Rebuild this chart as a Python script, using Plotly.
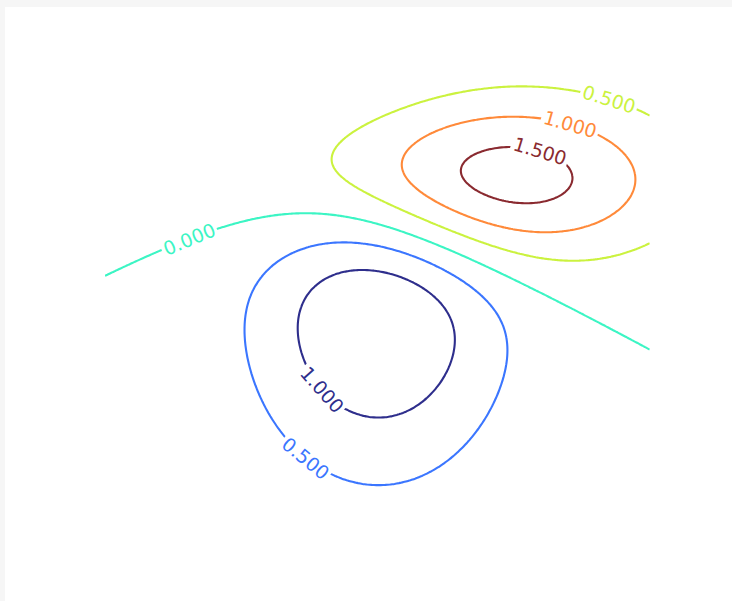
import numpy as np
import plotly.graph_objects as go

# Axis extents and grid step
x_range = [-3.0, 3.0]
y_range = [-2.0, 2.0]
y_grid_top = 1.9
step = 0.025

# Two bivariate normal bumps: (sigma_x, sigma_y, mu_x, mu_y)
bump_neg = [1.0, 1.0, 0.0, 0.0]
bump_pos = [1.5, 0.5, 1.0, 1.0]
scale = 10.0

# Contour levels (negative ones are labelled without a sign, as in the reference)
levels = [-1.0, -0.5, 0.0, 0.5, 1.0, 1.5]
level_colors = ["#2e2e8c", "#3b76ff", "#3cf5c4", "#cbf23f", "#ff8a3a", "#8a2a30"]
label_texts = ["1.000", "0.500", "0.000", "0.500", "1.000", "1.500"]
# x (data units) where each level's label sits, and which crossing ("low"/"high")
label_x = [-0.62, -0.81, -2.07, 2.52, 2.10, 1.78]
label_branch = ["low", "low", "high", "high", "high", "high"]

x = np.arange(x_range[0], x_range[1], step)
y = np.arange(y_range[0], y_grid_top, step)
X, Y = np.meshgrid(x, y)


def bivariate_normal(X, Y, sx, sy, mx, my):
    return np.exp(-((X - mx) ** 2 / sx ** 2 + (Y - my) ** 2 / sy ** 2) / 2) / (2 * np.pi * sx * sy)


Z = scale * (bivariate_normal(X, Y, *bump_pos) - bivariate_normal(X, Y, *bump_neg))

L, R, T, B = 105, 80, 59, 58
W, H = 732, 601
pw, ph = W - L - R, H - T - B
px_per_x = pw / (x_range[1] - x_range[0])
px_per_y = ph / (y_range[1] - y_range[0])

fig = go.Figure()
for lev, col in zip(levels, level_colors):
    fig.add_trace(go.Contour(
        x=x, y=y, z=Z,
        contours=dict(start=lev, end=lev, size=1, coloring="lines", showlabels=False),
        colorscale=[[0, col], [1, col]],
        autocontour=False, ncontours=1,
        line=dict(width=2.1), showscale=False, hoverinfo="skip",
    ))

# Inline labels: position found on the contour itself, angle from the local gradient
dZdy, dZdx = np.gradient(Z, step, step)
annotations = []
for lev, col, txt, lx, br in zip(levels, level_colors, label_texts, label_x, label_branch):
    j = int(np.argmin(np.abs(x - lx)))
    col_z = Z[:, j] - lev
    idx = np.where(np.sign(col_z[:-1]) != np.sign(col_z[1:]))[0]
    i = idx[0] if br == "low" else idx[-1]
    t = col_z[i] / (col_z[i] - col_z[i + 1])
    ly = y[i] + t * step
    gx, gy = dZdx[i, j], dZdy[i, j]
    tx, ty = -gy * px_per_x, gx * px_per_y
    ang = -np.degrees(np.arctan2(ty, tx))
    if ang > 90:
        ang -= 180
    if ang < -90:
        ang += 180
    annotations.append(dict(
        x=x[j], y=ly, xref="x", yref="y", text=txt, showarrow=False,
        textangle=ang, font=dict(size=19, color=col, family="DejaVu Sans"),
        bgcolor="white", borderpad=2,
    ))

fig.update_layout(
    width=W, height=H,
    margin=dict(l=L, r=R, t=T, b=B, pad=0),
    paper_bgcolor="#f6f6f6", plot_bgcolor="rgba(0,0,0,0)",
    showlegend=False,
    xaxis=dict(range=x_range, visible=False, showgrid=False, zeroline=False),
    yaxis=dict(range=y_range, visible=False, showgrid=False, zeroline=False),
    annotations=annotations,
    shapes=[dict(type="rect", xref="paper", yref="paper", layer="below",
                 x0=(5 - L) / pw, x1=(W + 5 - L) / pw,
                 y0=(H - B - (H + 5)) / ph, y1=(H - B - 7) / ph,
                 fillcolor="white", line=dict(width=0))],
)
fig.write_html("out.html")
